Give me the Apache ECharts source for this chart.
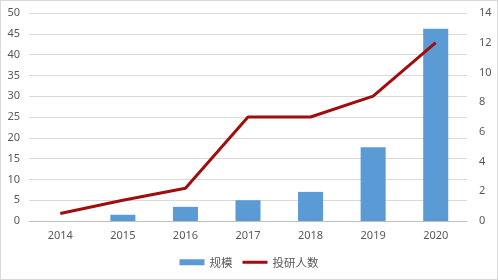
<!DOCTYPE html>
<html><head><meta charset="utf-8">
<script src="https://cdn.jsdelivr.net/npm/echarts@6/dist/echarts.min.js"></script>
<style>html,body{margin:0;padding:0;background:#fff}#c{width:498px;height:280px;box-sizing:border-box;border:1px solid #d9d9d9}</style>
</head><body><div id="c"></div>
<script>
const years = ['2014','2015','2016','2017','2018','2019','2020'];
const scaleValues = [null, 1.5, 3.4, 5.0, 7.0, 17.7, 46.2];
const staffValues = [0.5, 1.4, 2.2, 7.0, 7.0, 8.4, 12.0];
const seriesNames = ['规模', '投研人数'];

const chart = echarts.init(document.getElementById('c'));
const txt = {color:'#595959', fontSize:11, fontFamily:'"Noto Sans", sans-serif'};
chart.setOption({
  animation:false,
  grid:{left:28, right:30, top:12, bottom:58},
  legend:{bottom:6, left:'center', itemGap:10, itemWidth:25, itemHeight:6,
    textStyle:{color:'#595959', fontSize:11.5, fontFamily:'"Noto Sans CJK SC", sans-serif'},
    data:[{name:seriesNames[0], icon:'rect'},
          {name:seriesNames[1], icon:'path://M0,0H25V3H0Z', itemStyle:{color:'#a00d0d'}}]},
  xAxis:{type:'category', data:years, axisTick:{show:false},
    axisLine:{lineStyle:{color:'#bfbfbf'}}, axisLabel:Object.assign({margin:9}, txt)},
  yAxis:[
    {type:'value', min:0, max:50, interval:5, axisLine:{show:false}, axisTick:{show:false},
     splitLine:{lineStyle:{color:'#d9d9d9'}}, axisLabel:Object.assign({margin:9}, txt)},
    {type:'value', min:0, max:14, interval:2, axisLine:{show:false}, axisTick:{show:false},
     splitLine:{show:false}, axisLabel:Object.assign({margin:12}, txt)}
  ],
  series:[
    {name:seriesNames[0], type:'bar', data:scaleValues, barWidth:'40%', itemStyle:{color:'#5b9bd5'}},
    {name:seriesNames[1], type:'line', yAxisIndex:1, data:staffValues, symbol:'none',
     lineStyle:{color:'#a00d0d', width:3}, itemStyle:{color:'#a00d0d'}}
  ]
});
</script></body></html>
